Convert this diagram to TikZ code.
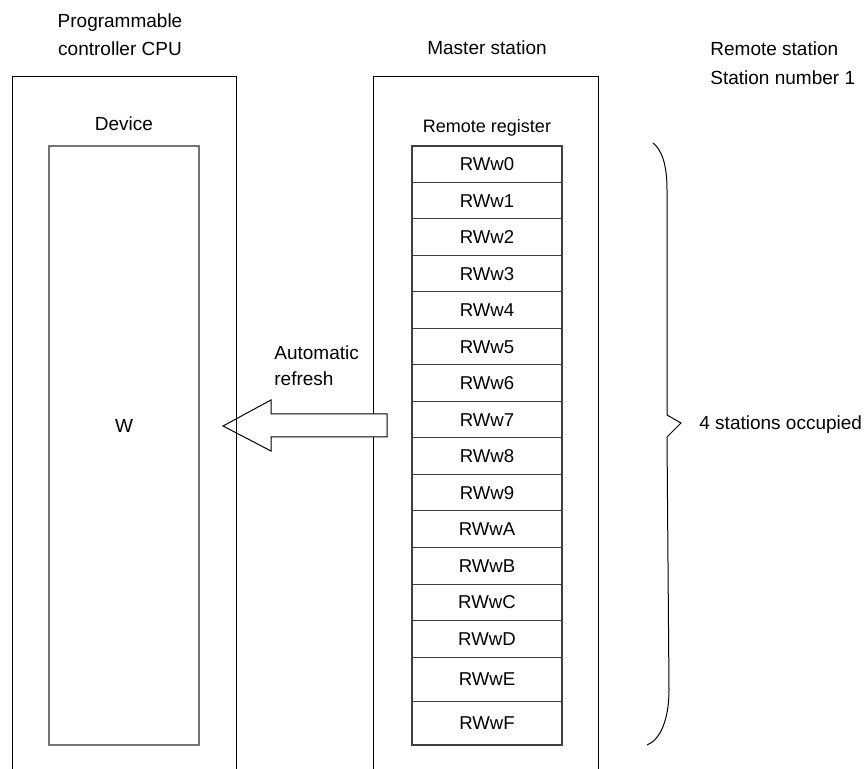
\documentclass[tikz,border=0pt]{standalone}
\usepackage{fontspec}
\setmainfont{Liberation Sans}
\usepackage{tikz}
\usetikzlibrary{positioning, calc}

\begin{document}
\begin{tikzpicture}[x=0.5pt, y=-0.5pt]
    % Define styles
    \tikzstyle{label} = [inner sep=0pt, font=\fontsize{9.5}{12}\selectfont]
    \tikzstyle{cell} = [rectangle, draw=black!75, line width=0.5pt, minimum width=75pt, minimum height=18.25pt, inner sep=0pt, outer sep=0pt, font=\fontsize{9.3}{11}\selectfont]
    \tikzstyle{frame} = [draw=black, line width=0.5pt]

    \useasboundingbox (0,0) rectangle (867,769);

    % Titles
    \node[label, align=center] (cputitle) at (120,35) {Programmable\\[2pt]controller CPU};
    \node[label] (mastertitle) at (487,48) {Master station};
    \node[label, anchor=west] (remotetitle) at (710,49) {Remote station};
    \node[label, anchor=west] (stationno) at (710,78) {Station number 1};

    % Master station frame (open at the bottom)
    \draw[frame] (373,769) -- (373,77) -- (598,77) -- (598,769);
    \node[label, font=\fontsize{9}{11}\selectfont] (regtitle) at (487,128) {Remote register};

    % Remote register cells
    \foreach \r [count=\i from 0] in {0,1,2,3,4,5,6,7,8,9,A,B,C,D}
        \node[cell] (cell\r) at (487,{146+36.5*(\i+0.5)}) {RWw\r};
    \node[cell, minimum height=22pt] (cellE) at (487,679) {RWwE};
    \node[cell, minimum height=22pt] (cellF) at (487,723) {RWwF};
    \draw[draw=black!75, line width=0.6pt] (cell0.north west) rectangle (cellF.south east);

    % Automatic refresh arrow
    \draw[frame, fill=white] (223,426) -- (271,400) -- (271,414) -- (387,414) -- (387,437) -- (271,437) -- (271,451) -- cycle;
    \node[label, align=left, anchor=north west] (refresh) at (274,345) {Automatic\\[1pt]refresh};

    % Programmable controller CPU frame (open at the bottom)
    \draw[frame] (12,769) -- (12,77) -- (236,77) -- (236,769);
    \node[label] (devtitle) at (124,124) {Device};
    \node[rectangle, draw=black!55, line width=0.8pt, minimum width=75pt, minimum height=299.5pt, inner sep=0pt] (device) at (124,445.5) {};
    \node[label] (wdev) at (124,426) {W};

    % Brace for the occupied stations
    \draw[line width=0.5pt] (653,143) .. controls (662,150) and (667,165) .. (667,190) -- (667,415) -- (681,423) -- (667,437) -- (669,690) .. controls (669,720) and (660,740) .. (647,745);
    \node[label, anchor=west] (occupied) at (699,425) {4 stations occupied};

\end{tikzpicture}
\end{document}
